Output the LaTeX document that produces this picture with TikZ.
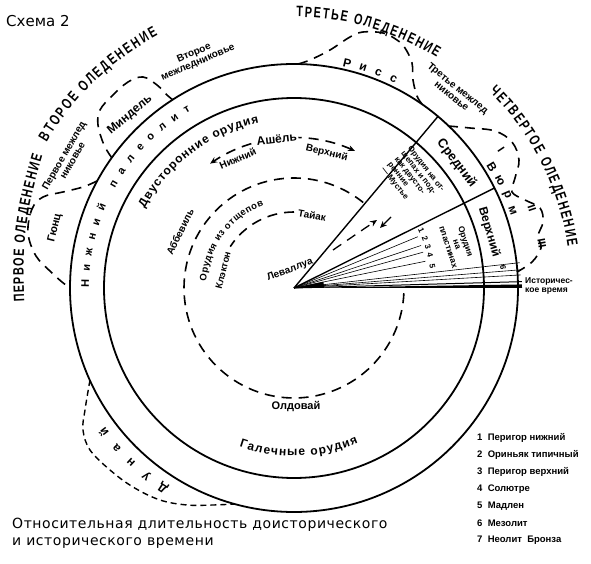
\documentclass[tikz,border=0pt]{standalone}
\usepackage{fontspec}
\usetikzlibrary{decorations.text,arrows.meta}
\newfontfamily\lf{Liberation Sans}
\newfontfamily\hf[FakeStretch=0.72]{Liberation Sans}
\newfontfamily\cf{DejaVu Sans}
\newfontfamily\capf[LetterSpace=4]{DejaVu Sans}
\newcommand\myfs[1]{\fontsize{#1}{#1}\selectfont}
\begin{document}
\begin{tikzpicture}[x=1pt,y=1pt,
  ring/.style={line width=1.8pt},
  radl/.style={line width=1.4pt},
  fanl/.style={line width=0.6pt},
  dsh/.style={line width=1.6pt, dash pattern=on 10pt off 7pt},
  dshs/.style={line width=1.4pt, dash pattern=on 6pt off 4pt},
  lbl/.style={font=\lf\bfseries, inner sep=0pt},
  tip/.style={-{Stealth[length=7pt,width=6pt]}},
  arctext/.style={decorate, decoration={text along path, text align={fit to path}, text={#1}}}
]
\useasboundingbox (-294,-276) rectangle (297,288);
\coordinate (C) at (0,0);

% circles
\draw[ring] (C) circle[radius=224];
\draw[ring] (C) circle[radius=190];

% inner dashed arcs
\draw[dsh] (51:110) arc[start angle=51, end angle=357.5, radius=110];
\draw[dsh, {Stealth[length=7pt,width=6pt]}-{Stealth[length=7pt,width=6pt]}] (66:150) arc[start angle=66, end angle=124, radius=150];
\draw[dsh] (90:76) arc[start angle=90, end angle=147, radius=76];

% wedge
\draw[radl] (C) -- (50:224);
\draw[radl] (C) -- (26.5:224);
\foreach \a in {22.5,18.5,15.5,11.5} \draw[fanl] (C) -- (\a:134);
\foreach \a in {6.4,4.6,3.3} \draw[fanl] (C) -- (\a:227);
\draw[line width=1pt] (C) -- (1.6:228);
\fill (C) -- (0:228) -- (0.9:228) -- cycle;
\fill (C) -- (0:30) arc[start angle=0, end angle=12, radius=30] -- cycle;

% arrows in wedge
\coordinate (m1) at (39,38); \coordinate (m2) at (83,68);
\draw[dsh, line width=1.3pt, tip] (m1) -- (m2);
\coordinate (m3) at (97,71); \coordinate (m4) at (86,60);
\draw[line width=1.3pt, tip] (m3) -- (m4);

% glaciation outlines
\draw[dsh] plot[smooth, tension=0.6] coordinates {(-197,107) (-211,101) (-231,96) (-251,91) (-262,79) (-266,55) (-258,32) (-243,16) (-232,6) (-224,0)};
\draw[dsh] plot[smooth, tension=0.6] coordinates {(-182,130) (-190,143) (-196,163) (-194,178) (-182,192) (-166,206) (-151,211) (-137,203) (-127,193) (-121,188)};
\draw[dsh] plot[smooth, tension=0.6] coordinates {(4,224) (16,228) (36,238) (56,251) (69,256) (89,255) (103,248) (111,240) (118,225) (119,208) (123,192) (128,184)};
\draw[dsh] plot[smooth, tension=0.6] coordinates {(154,162) (176,160) (201,157) (218,146) (225,128) (221,110) (218,96) (231,88) (246,80) (249,66) (244,52) (247,40) (238,26) (223,16)};
\draw[dshs] plot[smooth, tension=0.6] coordinates {(-204,-92) (-209,-122) (-211,-142) (-204,-162) (-184,-182) (-161,-199) (-134,-212) (-107,-217) (-81,-217) (-59,-216)};

% headings along arcs
\coordinate (h1a) at (-269.5,-14); \coordinate (h1b) at (-251.5,132);
\path[arctext={|\hf\bfseries\myfs{15}|ПЕРВОЕ ОЛЕДЕНЕНИЕ}] (h1a) to[bend left=10] (h1b);
\path[arctext={|\hf\bfseries\myfs{15}|ВТОРОЕ ОЛЕДЕНЕНИЕ}] (149.5:287) arc[start angle=149.5, end angle=118.3, radius=287];
\path[arctext={|\hf\bfseries\myfs{15}|ТРЕТЬЕ ОЛЕДЕНЕНИЕ}] (89.5:271) arc[start angle=89.5, end angle=58.2, radius=271];
\path[arctext={|\hf\bfseries\myfs{15}|ЧЕТВЕРТОЕ ОЛЕДЕНЕНИЕ}] (45.2:277) arc[start angle=45.2, end angle=8.6, radius=277];
\path[arctext={|\lf\bfseries\myfs{11}|Нижний палеолит}] (179.8:205) arc[start angle=179.8, end angle=120.3, radius=205];
\path[arctext={|\lf\bfseries\myfs{12}|Двусторонние орудия}] (152:169) arc[start angle=152, end angle=102, radius=169];
\path[arctext={|\lf\bfseries\myfs{9.5}|Орудия из отщепов}] (176:88) arc[start angle=176, end angle=110, radius=88];
\path[arctext={|\lf\bfseries\myfs{12}|Галечные орудия}] (251:168) arc[start angle=251, end angle=292.5, radius=168];

% letter-spaced names
\foreach \ch/\a [count=\i] in {Р/76.7, и/72.6, с/68.6, с/64.5}
  \node[lbl, font=\lf\bfseries\myfs{12}, rotate=\a-90] (riss\i) at (\a:231) {\ch};
\foreach \ch/\a [count=\i] in {В/31.5, ю/27.5, р/23.5, м/19.5}
  \node[lbl, font=\lf\bfseries\myfs{12}, rotate=\a-90] (wurm\i) at (\a:232) {\ch};
\foreach \ch/\a [count=\i] in {Д/236.8, у/231.9, н/227, а/222.1, й/217.2}
  \node[lbl, font=\lf\bfseries\myfs{12}, rotate=\a-90] (dun\i) at (\a:239) {\ch};
\node[lbl, font=\lf\bfseries\myfs{11}, rotate=-56.3] (w1) at (33.7:249) {I};
\node[lbl, font=\lf\bfseries\myfs{11}, rotate=-71.4] (w2) at (18.6:251) {II};
\node[lbl, font=\lf\bfseries\myfs{11}, rotate=-79.7] (w3) at (10.3:252) {III};

% interglacials and stage names
\node[lbl, font=\lf\bfseries\myfs{10}, rotate=60, align=center] (ig1) at (-226,130) {Первое межлед\\никовье};
\node[lbl, font=\lf\bfseries\myfs{10}, rotate=23, align=center] (ig2) at (-98,230) {Второе\\межледниковье};
\node[lbl, font=\lf\bfseries\myfs{10}, rotate=-39, align=center] (ig3) at (161,196) {Третье межлед\\никовье};
\node[lbl, font=\lf\bfseries\myfs{11}, rotate=76] (gunz) at (-239,60) {Гюнц};
\node[lbl, font=\lf\bfseries\myfs{12}, rotate=40] (mind) at (-164,173) {Миндель};

% inner labels
\node[lbl, font=\lf\bfseries\myfs{12}, fill=white, inner sep=1.5pt, rotate=6.6] (ash) at (96.6:150) {Ашёль};
\node[lbl, font=\lf\bfseries\myfs{10}, rotate=23.5] (ashl) at (113.5:141) {Нижний};
\node[lbl, font=\lf\bfseries\myfs{10}, rotate=-13.6] (ashu) at (76.4:139) {Верхний};
\node[lbl, font=\lf\bfseries\myfs{10}, rotate=-10] (tay) at (76:75) {Тайак};
\node[lbl, font=\lf\bfseries\myfs{9.5}, rotate=76] (clac) at (166:73) {Клэктон};
\node[lbl, font=\lf\bfseries\myfs{10}, rotate=64] (abb) at (153.8:127) {Аббевиль};
\node[lbl, font=\lf\bfseries\myfs{10}, rotate=20] (lev) at (-4,18) {Леваллуа};
\node[lbl, font=\lf\bfseries\myfs{11}] (old) at (2,-119) {Олдовай};

% wedge labels
\node[lbl, font=\lf\bfseries\myfs{13}, rotate=-52.5] (mid) at (37.5:205) {Средний};
\node[lbl, font=\lf\bfseries\myfs{12}, rotate=-74] (up) at (16:203) {Верхний};
\node[lbl, font=\lf\bfseries\fontsize{8}{8.4}\selectfont, rotate=-52, align=left, anchor=north west] (must) at (118,143) {Орудия на от-\\щепах и под-\\как двусто-\\ронние\\— Мустье};
\node[lbl, font=\lf\bfseries\fontsize{8.5}{9}\selectfont, rotate=-72, align=center] (plast) at (15:169) {Орудия\\на\\пластинах};
\foreach \n/\a in {1/24.5, 2/20.5, 3/17, 4/13.5, 5/9}
  \node[lbl, font=\lf\bfseries\myfs{8}, rotate=\a-90] (num\n) at (\a:140) {\n};
\node[lbl, font=\lf\bfseries\myfs{8}, rotate=-85] (num6) at (5.5:210) {6};
\node[lbl, font=\lf\bfseries\myfs{8.5}, anchor=west, align=left] (hist) at (231,2) {Историчес-\\кое время};

% legend
\foreach \t [count=\i] in {Перигор нижний, Ориньяк типичный, Перигор верхний, Солютре, Мадлен, Мезолит, Неолит\ \ Бронза}
  \node[lbl, font=\lf\bfseries\myfs{9.5}, anchor=west] (leg\i) at (183,-150-17*\i+17) {\i\ \ \t};

% title and caption
\node[inner sep=0pt, font=\cf\myfs{15}, anchor=west] (title) at (-288,267) {Схема 2};
\node[inner sep=0pt, font=\capf\myfs{14}, anchor=west, align=left] (cap) at (-282,-245) {Относительная длительность доисторического\\[3pt]и исторического времени};
\end{tikzpicture}
\end{document}
